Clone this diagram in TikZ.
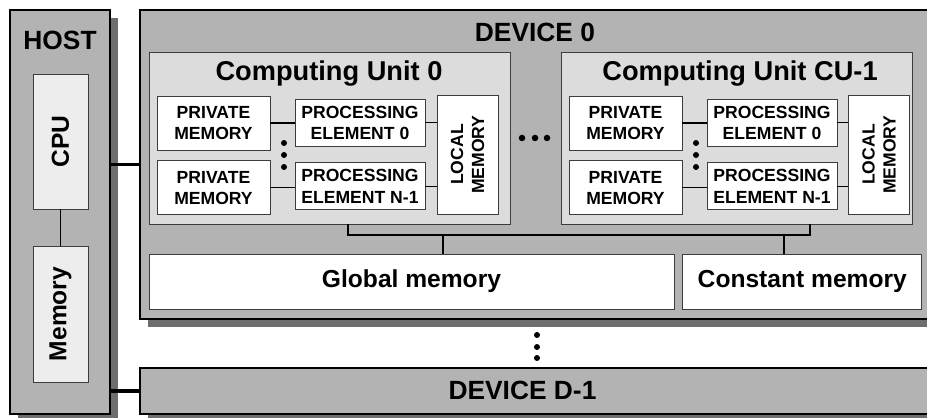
\documentclass[tikz,border=0pt]{standalone}
\usepackage{fontspec}
\setmainfont{Liberation Sans}
\usepackage{tikz}
\usetikzlibrary{positioning}
\usetikzlibrary{shadows}
\definecolor{devgray}{HTML}{B3B3B3}
\definecolor{cugray}{HTML}{DCDCDC}
\definecolor{cpugray}{HTML}{EDEDED}
\definecolor{shadowgray}{HTML}{6E6E6E}
\definecolor{edgegray}{HTML}{3C3C3C}

\begin{document}
\begin{tikzpicture}[
            x = 0.02cm, y = -0.02cm, % one unit = one pixel of the sketch
            font = \bfseries,
            line join = miter
        ]

        \tikzstyle{box}=[
            draw = edgegray,
            line width = 0.5pt,
            inner sep = 0pt,
            align = center
        ]
        \tikzstyle{bigbox}=[
            box,
            draw = black,
            line width = 0.9pt,
            fill = devgray,
            drop shadow = {shadow xshift=0.16cm, shadow yshift=-0.16cm,
                           fill=shadowgray, opacity=1}
        ]
        \tikzstyle{cubox}=[box, fill = cugray, minimum height = 3.44cm]
        \tikzstyle{hwbox}=[box, fill = cpugray, rotate = 90, minimum height = 1.1cm,
            font = \bfseries\fontsize{14}{16}\selectfont]
        \tikzstyle{small}=[box, fill = white,
            font = \bfseries\fontsize{10}{12}\selectfont]
        \tikzstyle{pmem}=[small, minimum width = 2.26cm, minimum height = 1.08cm]
        \tikzstyle{pelem}=[small, minimum width = 2.6cm, minimum height = 0.94cm]
        \tikzstyle{lmem}=[small, rotate = 90, minimum width = 2.38cm, minimum height = 1.22cm]
        \tikzstyle{gmem}=[box, fill = white, minimum height = 1.1cm,
            font = \bfseries\fontsize{14}{16}\selectfont]
        \tikzstyle{title}=[anchor = base, inner sep = 0pt,
            font = \bfseries\fontsize{15}{18}\selectfont]
        \tikzstyle{dot}=[circle, fill = black, inner sep = 0pt, minimum size = 0.12cm]
        \tikzstyle{link}=[draw = black, line width = 0.6pt]
        \tikzstyle{buslink}=[draw = black, line width = 1.8pt]

        \useasboundingbox (0,0) rectangle (927,418);
        \clip (0,0) rectangle (927,418);

        % host
        \node[bigbox, minimum width = 2cm, minimum height = 8.08cm] (host) at (60,212) {};
        \node[title] (hostlbl) at (60,50) {HOST};
        \node[hwbox, minimum width = 2.7cm] (cpu) at (60.5,141.5) {CPU};
        \node[hwbox, minimum width = 2.72cm] (mem) at (60.5,314) {Memory};

        \path[link] (cpu) -- (mem);

        % devices
        \node[bigbox, minimum width = 16cm, minimum height = 6.18cm] (dev0) at (540,164.5) {};
        \node[title] (dev0lbl) at (535,42) {DEVICE 0};

        \node[bigbox, minimum width = 16cm, minimum height = 0.92cm] (devD) at (540,391) {};
        \node[title] (devDlbl) at (522.5,400) {DEVICE D-1};

        \path[buslink] (dev0.west) -- (dev0.west -| host.east);
        \path[buslink] (devD.west) -- (devD.west -| host.east);

        % computing unit 0
        \node[cubox, minimum width = 7.22cm] (cu0) at (329.5,138) {};
        \node[title, font = \bfseries\fontsize{15.5}{18}\selectfont] (cu0lbl) at (329,81) {Computing Unit 0};

        \node[pmem] (pm0a) at (213.5,123) {PRIVATE\\MEMORY};
        \node[pmem, below = 0.2cm of pm0a] (pm0b) {PRIVATE\\MEMORY};
        \node[pelem] (pe0a) at (360,122.5) {PROCESSING\\ELEMENT 0};
        \node[pelem, below = 0.32cm of pe0a] (pe0b) {PROCESSING\\ELEMENT N-1};
        \node[lmem] (lm0) at (467.5,154.5) {LOCAL\\MEMORY};

        \path[link] (pm0a.east) -- (pm0a.east -| pe0a.west);
        \path[link] (pm0b.east) -- (pm0b.east -| pe0b.west);
        \path[link] (pe0a.east) -- (pe0a.east -| lm0.north);
        \path[link] (pe0b.east) -- (pe0b.east -| lm0.north);

        \node[dot] (v0a) at (284,143) {};
        \node[dot] (v0b) at (284,155) {};
        \node[dot] (v0c) at (284,167) {};

        % computing unit CU-1
        \node[cubox, minimum width = 7.02cm] (cu1) at (736.5,138) {};
        \node[title, font = \bfseries\fontsize{15.5}{18}\selectfont] (cu1lbl) at (740,81) {Computing Unit CU-1};

        \node[pmem] (pm1a) at (625.5,123) {PRIVATE\\MEMORY};
        \node[pmem, below = 0.2cm of pm1a] (pm1b) {PRIVATE\\MEMORY};
        \node[pelem] (pe1a) at (772,122.5) {PROCESSING\\ELEMENT 0};
        \node[pelem, below = 0.32cm of pe1a] (pe1b) {PROCESSING\\ELEMENT N-1};
        \node[lmem] (lm1) at (879,154.5) {LOCAL\\MEMORY};

        \path[link] (pm1a.east) -- (pm1a.east -| pe1a.west);
        \path[link] (pm1b.east) -- (pm1b.east -| pe1b.west);
        \path[link] (pe1a.east) -- (pe1a.east -| lm1.north);
        \path[link] (pe1b.east) -- (pe1b.east -| lm1.north);

        \node[dot] (v1a) at (696,143) {};
        \node[dot] (v1b) at (696,155) {};
        \node[dot] (v1c) at (696,167) {};

        % dots between the units
        \node[dot, minimum size = 0.13cm] (h0) at (522,138) {};
        \node[dot, minimum size = 0.13cm] (h1) at (535,138) {};
        \node[dot, minimum size = 0.13cm] (h2) at (547,138) {};

        % global and constant memory
        \node[gmem, minimum width = 10.5cm] (glob) at (411.5,281.5) {Global memory};
        \node[gmem, minimum width = 4.78cm, right = 0.16cm of glob] (const) {Constant memory};

        % bus
        \coordinate (busL) at (348,235);
        \coordinate (busR) at (810,235);
        \coordinate (tapG) at (443,235);
        \coordinate (tapC) at (784,235);

        \path[link] (cu0.south -| busL) -- (busL) -- (busR) -- (cu1.south -| busR);
        \path[link] (tapG) -- (tapG |- glob.north);
        \path[link] (tapC) -- (tapC |- const.north);

        % more devices
        \node[dot] (d0) at (537,335) {};
        \node[dot] (d1) at (537,347) {};
        \node[dot] (d2) at (537,358) {};

\end{tikzpicture}
\end{document}
